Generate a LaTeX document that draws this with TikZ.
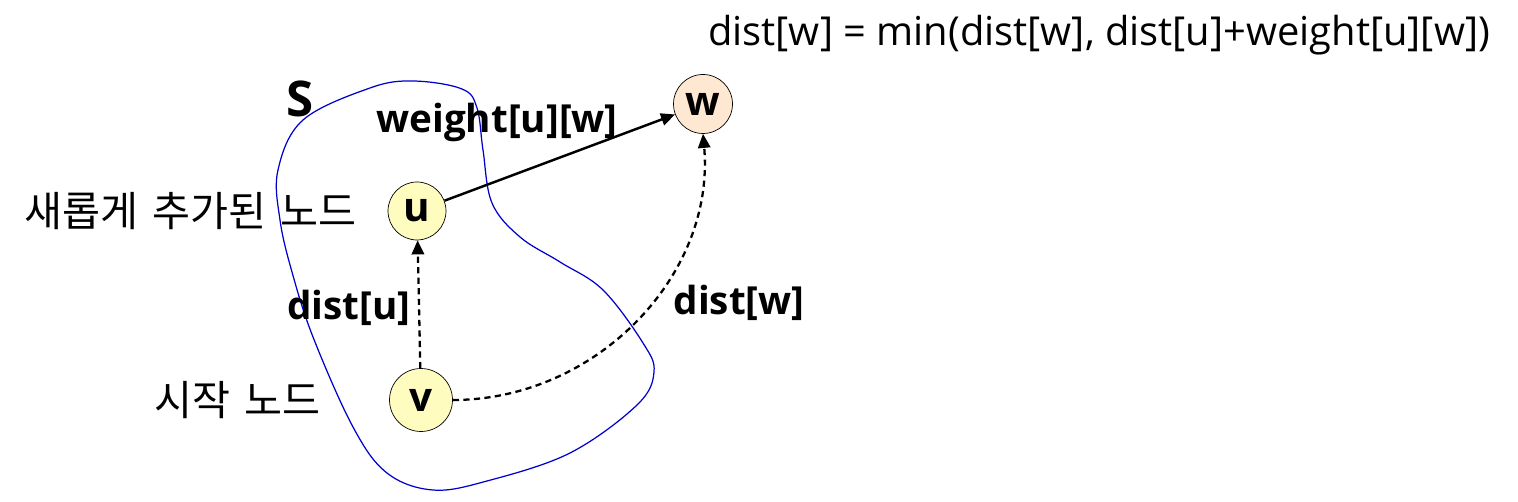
\documentclass[tikz,border=0pt]{standalone}
\usepackage{fontspec}
\setmainfont{Open Sans}
\newfontfamily\krfont[WordSpace=1.5]{Noto Sans CJK KR}
\usetikzlibrary{positioning, arrows.meta}

\begin{document}
\begin{tikzpicture}[
        x=0.02cm, y=-0.02cm,
        vertex/.style={draw, thin, circle, inner sep=0pt, minimum size=1.16cm, font=\fontsize{23}{25}\selectfont\bfseries},
        lbl/.style={font=\fontsize{22}{24}\selectfont\bfseries},
        kr/.style={font=\fontsize{23.5}{26}\selectfont\krfont},
        arrow/.style={draw, line width=1.4pt, -{Triangle[length=8pt, width=7pt]}},
        darrow/.style={arrow, line width=1.3pt, dash pattern=on 3.5pt off 2.5pt}
    ]
    \useasboundingbox (0,0) rectangle (1518,502);

    % Menge S
    \draw[blue!80!black, line width=0.7pt] plot[smooth cycle, tension=0.6] coordinates {
        (413,81) (370,88) (303,120) (278,170) (280,220) (292,272) (313,337)
        (353,427) (387,473) (433,490) (487,481) (570,453) (637,405) (654,372)
        (643,343) (603,290) (560,262) (520,237) (492,203) (483,150) (477,108)
        (462,89)};
    \node (setS) [font=\fontsize{28}{30}\selectfont\bfseries] at (300,99) {S};

    % Knoten
    \node (u) [vertex, fill=yellow!25, minimum width=1.16cm, minimum height=1.12cm] at (417,211) {u};
    \node (v) [vertex, fill=yellow!25, minimum width=1.26cm, minimum height=1.12cm] at (421,400) {v};
    \node (w) [vertex, fill=orange!18, minimum width=1.18cm, minimum height=1.08cm] at (703,104) {w};

    \node (newlbl) [kr, left=0.5cm of u] {새롭게 추가된 노드};
    \node (startlbl) [kr, left=1.25cm of v] {시작 노드};
    \node (formula) [font=\fontsize{22.7}{26}\selectfont, anchor=west] at (702,35) {dist[w] = min(dist[w], dist[u]+weight[u][w])};

    % Kanten
    \draw[arrow] (u) -- (w);
    \draw[darrow] (v) -- (u);
    \draw[darrow] (v.east) to[out=0, in=-85] (w.south);

    \node (wlbl) [lbl] at (497,122) {weight[u][w]};
    \node (dulbl) [lbl] at (349,308) {dist[u]};
    \node (dwlbl) [lbl] at (739,303) {dist[w]};

\end{tikzpicture}
\end{document}
